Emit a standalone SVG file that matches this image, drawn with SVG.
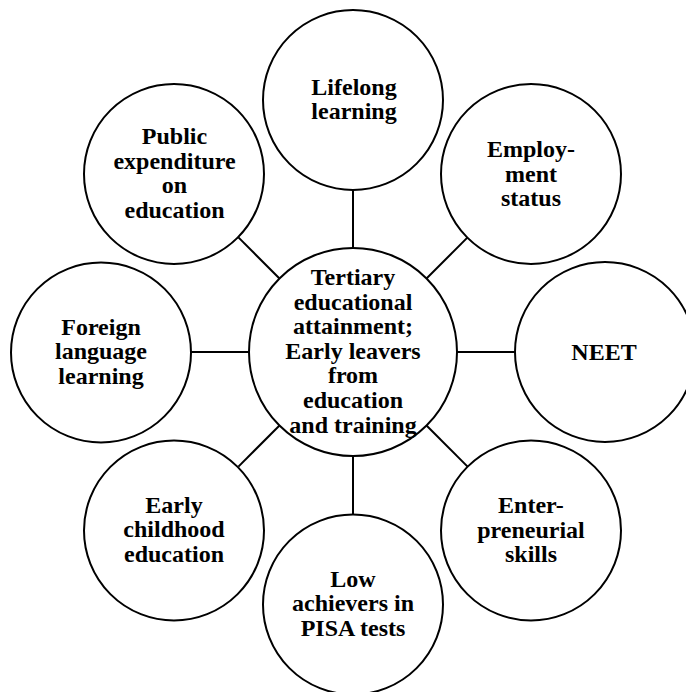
<svg xmlns="http://www.w3.org/2000/svg" width="686" height="692" viewBox="0 0 686 692">
<style>
.n{fill:#fff;stroke:#000;stroke-width:2}
.c line{stroke:#000;stroke-width:2}
text{font-family:"Liberation Serif","Times New Roman",serif;font-weight:bold;font-size:24px;text-anchor:middle;fill:#000}
</style>
<rect width="686" height="692" fill="#fff"/>
<g class="c" id="connectors">
<line x1="353" y1="190" x2="353" y2="248"/>
<line x1="353" y1="456" x2="353" y2="514"/>
<line x1="191" y1="352" x2="249" y2="352"/>
<line x1="457" y1="352" x2="515" y2="352"/>
<line x1="467.6" y1="237.4" x2="426.5" y2="278.5"/>
<line x1="238.4" y1="237.4" x2="279.5" y2="278.5"/>
<line x1="238.4" y1="466.6" x2="279.5" y2="425.5"/>
<line x1="467.6" y1="466.6" x2="426.5" y2="425.5"/>
</g>
<g id="center">
<circle class="n" cx="353" cy="352" r="104"/>
<text x="353" y="285">Tertiary</text>
<text x="353" y="309.6">educational</text>
<text x="353" y="334.2">attainment;</text>
<text x="353" y="358.8">Early leavers</text>
<text x="353" y="383.4">from</text>
<text x="353" y="408">education</text>
<text x="353" y="432.6">and training</text>
</g>
<g id="lifelong">
<circle class="n" cx="353" cy="100" r="90"/>
<text x="354" y="94.5">Lifelong</text>
<text x="354" y="119">learning</text>
</g>
<g id="employment">
<circle class="n" cx="531" cy="174" r="90"/>
<text x="531" y="157">Employ-</text>
<text x="531" y="181.6">ment</text>
<text x="531" y="206.2">status</text>
</g>
<g id="neet">
<circle class="n" cx="605" cy="352" r="90"/>
<text x="604" y="360">NEET</text>
</g>
<g id="enterpreneurial">
<circle class="n" cx="531" cy="530.5" r="90"/>
<text x="531" y="513">Enter-</text>
<text x="531" y="537.6">preneurial</text>
<text x="531" y="562.2">skills</text>
</g>
<g id="low-achievers">
<circle class="n" cx="353" cy="604.5" r="90"/>
<text x="353" y="587">Low</text>
<text x="353" y="611.3">achievers in</text>
<text x="353" y="635.6">PISA tests</text>
</g>
<g id="early-childhood">
<circle class="n" cx="174" cy="530.5" r="90"/>
<text x="174" y="512.5">Early</text>
<text x="174" y="537.1">childhood</text>
<text x="174" y="561.7">education</text>
</g>
<g id="foreign-language">
<circle class="n" cx="101" cy="352.5" r="90"/>
<text x="101" y="334.5">Foreign</text>
<text x="101" y="359.1">language</text>
<text x="101" y="383.7">learning</text>
</g>
<g id="public-expenditure">
<circle class="n" cx="174" cy="174" r="90"/>
<text x="174.5" y="144">Public</text>
<text x="174.5" y="168.6">expenditure</text>
<text x="174.5" y="193.2">on</text>
<text x="174.5" y="217.8">education</text>
</g>
</svg>
